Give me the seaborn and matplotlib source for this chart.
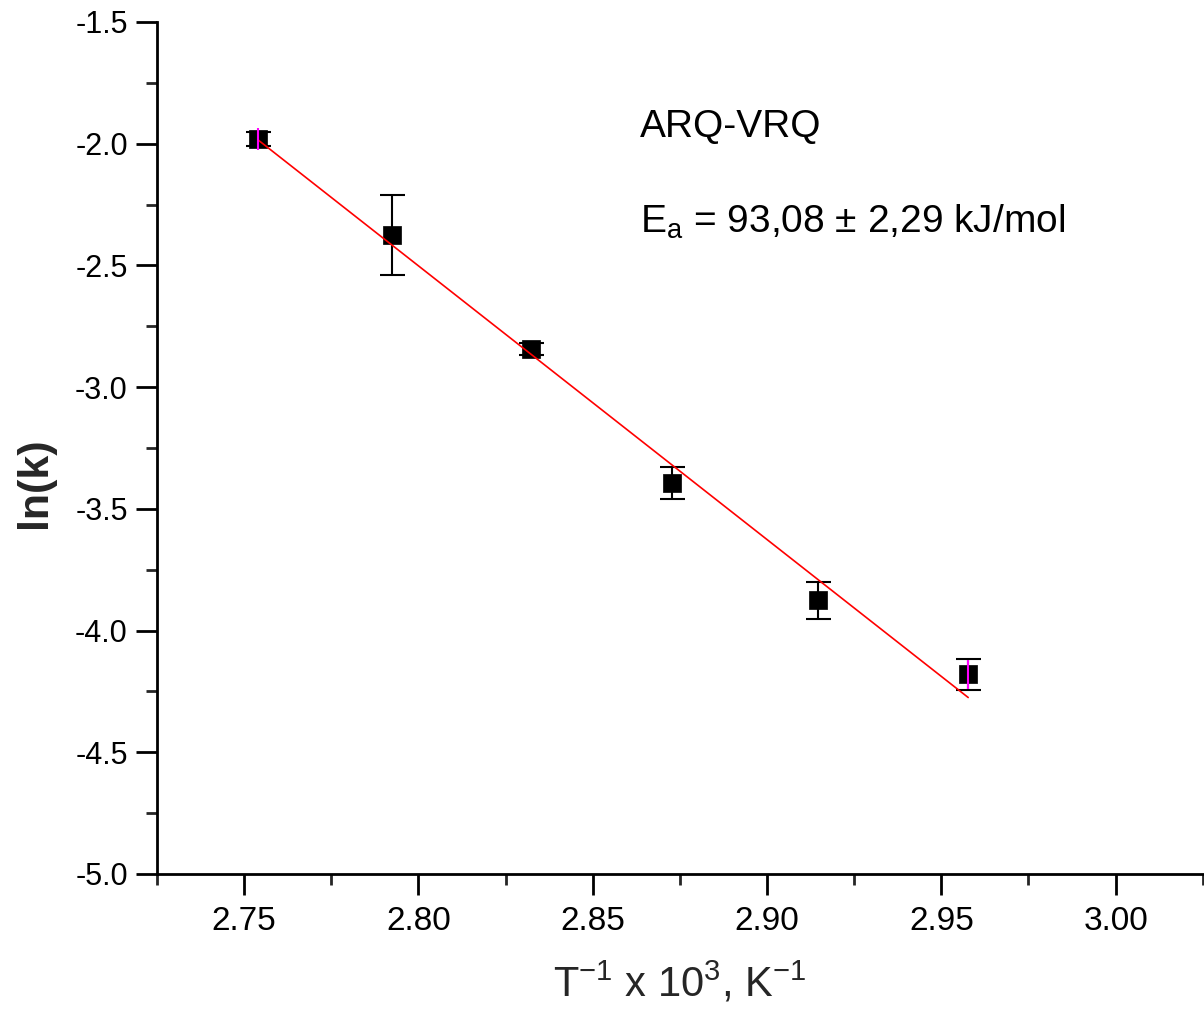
import numpy as np
import pandas as pd
import matplotlib
matplotlib.use("Agg")
import matplotlib.pyplot as plt
from matplotlib.ticker import MultipleLocator, FormatStrFormatter
import seaborn as sns

# ---- data ----
inv_T = [2.754, 2.7924, 2.8322, 2.8726, 2.9145, 2.9577]      # T^-1 x 10^3, K^-1
ln_k = [-1.981, -2.375, -2.843, -3.394, -3.875, -4.179]
ln_k_err = [0.028, 0.165, 0.025, 0.064, 0.076, 0.064]
overlay_err = [0.045, 0.0, 0.0, 0.0, 0.0, 0.060]               # magenta overlay bars
label_name = "ARQ-VRQ"
label_ea = r"E$_{a}$ = 93,08 ± 2,29 kJ/mol"
x_ticks = [2.75, 2.80, 2.85, 2.90, 2.95, 3.00]
y_ticks = [-5.0, -4.5, -4.0, -3.5, -3.0, -2.5, -2.0, -1.5]

df = pd.DataFrame({"x": inv_T, "y": ln_k, "err": ln_k_err, "oerr": overlay_err})

sns.set_theme(style="ticks")
plt.rcParams["font.family"] = ["Liberation Sans", "DejaVu Sans"]
plt.rcParams["mathtext.fontset"] = "custom"
plt.rcParams["mathtext.rm"] = "Liberation Sans"
plt.rcParams["mathtext.it"] = "Liberation Sans"
plt.rcParams["mathtext.default"] = "regular"
plt.rcParams["axes.unicode_minus"] = False

fig = plt.figure(figsize=(12.04, 10.09), dpi=100)
ax = fig.add_axes([0.1304, 0.1338, 0.8686, 0.8444])

# error bars (black, with caps)
ax.errorbar(df["x"], df["y"], yerr=df["err"], fmt="none", ecolor="black",
            elinewidth=1.5, capsize=9, capthick=1.5, zorder=2)

# square markers
sns.scatterplot(data=df, x="x", y="y", marker="s", s=185, color="black",
                edgecolor="black", linewidth=0.5, ax=ax, zorder=3, legend=False)

# linear fit
sns.regplot(data=df, x="x", y="y", scatter=False, ci=None, truncate=True,
            line_kws=dict(color="red", linewidth=1.2, zorder=4), ax=ax)

# magenta overlay bars
hl = df[df["oerr"] > 0]
ax.errorbar(hl["x"], hl["y"], yerr=hl["oerr"], fmt="none", ecolor="#ff00ff",
            elinewidth=1.5, capsize=0, zorder=5)

ax.set_xlim(2.725, 3.025)
ax.set_ylim(-5.0, -1.5)
ax.set_xticks(x_ticks)
ax.set_yticks(y_ticks)
ax.xaxis.set_minor_locator(MultipleLocator(0.025))
ax.yaxis.set_minor_locator(MultipleLocator(0.25))
ax.xaxis.set_major_formatter(FormatStrFormatter("%.2f"))
ax.yaxis.set_major_formatter(FormatStrFormatter("%.1f"))

ax.tick_params(axis="both", which="major", direction="out", length=15, width=2,
               colors="black", pad=6)
ax.tick_params(axis="x", which="major", labelsize=24, pad=8)
ax.tick_params(axis="y", which="major", labelsize=22)
ax.tick_params(axis="both", which="minor", direction="out", length=8, width=2)

sns.despine(ax=ax)
for s in ["left", "bottom"]:
    ax.spines[s].set_linewidth(2)
    ax.spines[s].set_color("black")

ax.set_xlabel(r"T$^{-1}$ x 10$^{3}$, K$^{-1}$", fontsize=30, labelpad=17)
ax.set_ylabel("ln(k)", fontsize=31, fontweight="bold")
ax.yaxis.set_label_coords(-0.098, 0.459)

ax.text(2.8635, -1.9725, label_name, fontsize=28, color="black", ha="left", va="baseline")
ax.text(2.8635, -2.367, label_ea, fontsize=28, color="black", ha="left", va="baseline")

fig.savefig("out.png", dpi=100, facecolor="white")
